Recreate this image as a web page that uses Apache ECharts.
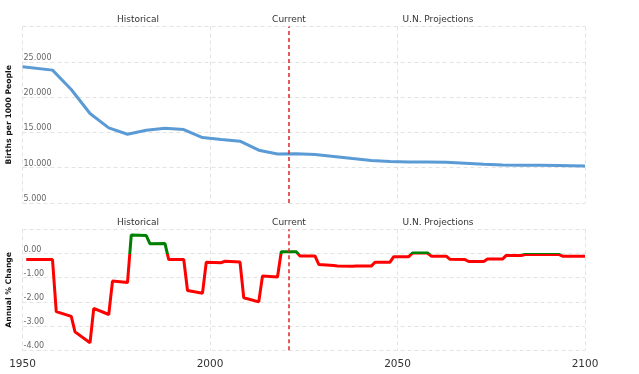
<!DOCTYPE html>
<html>
<head>
<meta charset="utf-8">
<script src="https://cdn.jsdelivr.net/npm/echarts@6/dist/echarts.min.js"></script>
<style>
html,body{margin:0;padding:0;background:#fff;}
#chart{width:639px;height:374px;}
</style>
</head>
<body>
<div id="chart"></div>
<script>
// Births per 1000 people (knot years)
var birthYears = [1950,1958,1963,1968,1973,1978,1983,1988,1993,1998,2003,2008,2013,2018,2023,2028,2033,2038,2043,2048,2053,2058,2063,2068,2073,2078,2083,2088,2093,2100];
var birthRates = [24.29,23.82,21.08,17.68,15.64,14.74,15.31,15.60,15.41,14.27,13.99,13.75,12.48,11.95,11.96,11.88,11.60,11.30,11.03,10.87,10.81,10.81,10.76,10.63,10.49,10.38,10.34,10.33,10.32,10.25];

// Annual % change (segment corner years)
var changeYears = [1951,1958,1959,1963,1964,1968,1969,1973,1974,1978,1979,1983,1984,1988,1989,1993,1994,1998,1999,2003,2004,2008,2009,2013,2014,2018,2019,2023,2024,2028,2029,2033,2034,2038,2039,2043,2044,2048,2049,2053,2054,2058,2059,2063,2064,2068,2069,2073,2074,2078,2079,2083,2084,2088,2089,2093,2094,2100];
var changeValues = [-0.25,-0.25,-2.40,-2.60,-3.24,-3.69,-2.27,-2.52,-1.14,-1.20,0.76,0.74,0.40,0.41,-0.25,-0.25,-1.53,-1.64,-0.36,-0.38,-0.32,-0.35,-1.83,-2.00,-0.93,-0.97,0.07,0.07,-0.10,-0.10,-0.45,-0.50,-0.52,-0.53,-0.52,-0.52,-0.36,-0.36,-0.13,-0.13,0.02,0.02,-0.11,-0.11,-0.24,-0.25,-0.33,-0.33,-0.23,-0.23,-0.08,-0.08,-0.04,-0.04,-0.04,-0.04,-0.11,-0.11];

var currentYear = 2021;
var sectionLabels = ['Historical','Current','U.N. Projections'];
var xTicks = [1950, 2000, 2050, 2100];

var birthData = birthYears.map(function(y,i){return [y, birthRates[i]];});
var changeData = changeYears.map(function(y,i){return [y, changeValues[i]];});

var FONT = 'DejaVu Sans';
var POS = '#008000', NEG = '#ff0000';
function gridLine(){ return {show:true, lineStyle:{color:'#e3e3e3', type:[4,3], width:1}}; }
function currentLineSeries(xi, yi){
  return {type:'line', xAxisIndex:xi, yAxisIndex:yi, data:[], symbol:'none', silent:true,
    lineStyle:{opacity:0},
    markLine:{silent:true, symbol:['none','none'], label:{show:false},
      lineStyle:{color:'#e02424', type:[4,3], width:1.5},
      data:[{xAxis: currentYear}], animation:false}, z:4};
}
function sectionText(x, y, t){
  return {type:'text', x:x, y:y, style:{text:t, fill:'#333', font:'9px "DejaVu Sans"', textAlign:'center', textVerticalAlign:'middle'}};
}

var chart = echarts.init(document.getElementById('chart'), null, {renderer:'canvas'});
var option = {
  animation:false,
  textStyle:{fontFamily:FONT},
  grid:[
    {left:22.5, right:54, top:26.5, height:176.5, containLabel:false, outerBoundsMode:'none'},
    {left:22.5, right:54, top:229.3, height:121, containLabel:false, outerBoundsMode:'none'}
  ],
  xAxis:[
    {gridIndex:0, type:'value', min:xTicks[0], max:xTicks[xTicks.length-1], interval:50,
     axisLine:{show:false}, axisTick:{show:false}, axisLabel:{show:false}, splitLine:gridLine()},
    {gridIndex:1, type:'value', min:xTicks[0], max:xTicks[xTicks.length-1], interval:50,
     axisLine:{show:false}, axisTick:{show:false},
     axisLabel:{show:true, color:'#333', fontSize:10.5, fontFamily:FONT, margin:8,
       formatter:function(v){return String(v);}},
     splitLine:gridLine()}
  ],
  yAxis:[
    {gridIndex:0, type:'value', min:5, max:30, interval:5,
     name:'Births per 1000 People', nameLocation:'middle', nameRotate:90, nameGap:6.5,
     nameTextStyle:{fontWeight:'bold', fontSize:7.7, color:'#111', fontFamily:FONT},
     axisLine:{show:false}, axisTick:{show:false},
     axisLabel:{inside:true, margin:1, verticalAlign:'bottom', color:'#666', fontSize:8, fontFamily:FONT,
       formatter:function(v){return v>=30?'':v.toFixed(3);}},
     splitLine:gridLine()},
    {gridIndex:1, type:'value', min:-4, max:1, interval:1,
     name:'Annual % Change', nameLocation:'middle', nameRotate:90, nameGap:6.5,
     nameTextStyle:{fontWeight:'bold', fontSize:7.7, color:'#111', fontFamily:FONT},
     axisLine:{show:false}, axisTick:{show:false},
     axisLabel:{inside:true, margin:1, verticalAlign:'bottom', color:'#666', fontSize:8, fontFamily:FONT,
       formatter:function(v){return v>=1?'':v.toFixed(2);}},
     splitLine:gridLine()}
  ],
  series:[
    {type:'line', xAxisIndex:0, yAxisIndex:0, data:birthData, symbol:'none', smooth:false,
     lineStyle:{color:'#5b9bd5', width:3}, z:3},
    {id:'change', type:'line', xAxisIndex:1, yAxisIndex:1, data:changeData, symbol:'none', smooth:false,
     lineStyle:{width:3, color:NEG}, z:3},
    currentLineSeries(0,0),
    currentLineSeries(1,1)
  ],
  graphic:[
    sectionText(138, 20, sectionLabels[0]),
    sectionText(289, 20, sectionLabels[1]),
    sectionText(438, 20, sectionLabels[2]),
    sectionText(138, 223, sectionLabels[0]),
    sectionText(289, 223, sectionLabels[1]),
    sectionText(438, 223, sectionLabels[2])
  ]
};
chart.setOption(option);

// colour the % change line green above zero and red below, split exactly at the zero line
var yTop = chart.convertToPixel({yAxisIndex:1}, 1);
var yBot = chart.convertToPixel({yAxisIndex:1}, -4);
var yZero = chart.convertToPixel({yAxisIndex:1}, 0);
var f = (yZero - yTop) / (yBot - yTop);
chart.setOption({series:[{id:'change', lineStyle:{color:new echarts.graphic.LinearGradient(0, yTop, 0, yBot, [
  {offset:0, color:POS},{offset:f, color:POS},{offset:f, color:NEG},{offset:1, color:NEG}
], true)}}]});
</script>
</body>
</html>
